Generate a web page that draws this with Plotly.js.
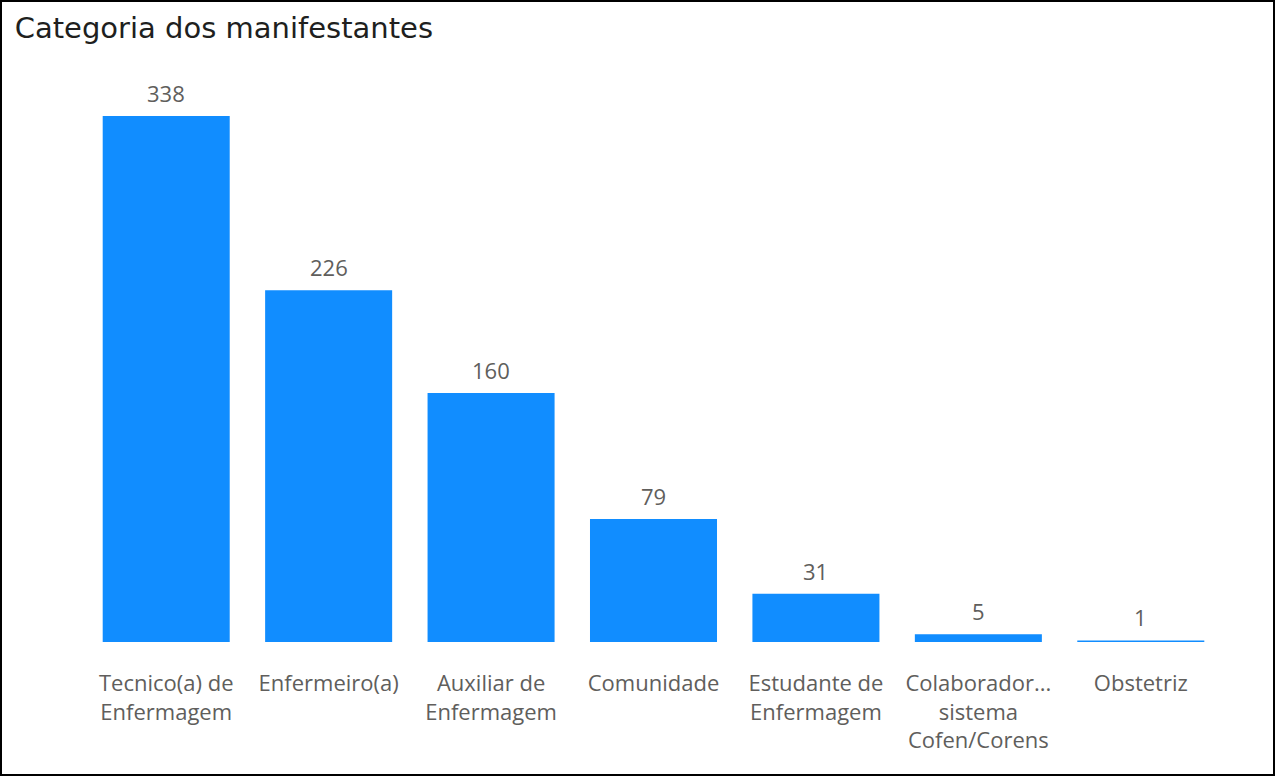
<!DOCTYPE html>
<html>
<head>
<meta charset="utf-8">
<script src="https://cdn.plot.ly/plotly-3.0.1.min.js"></script>
<style>
html,body{margin:0;padding:0;background:#fff;}
#wrap{width:1275px;height:776px;box-sizing:border-box;border:2px solid #000;overflow:hidden;}
#chart{width:1271px;height:772px;}
</style>
</head>
<body>
<div id="wrap"><div id="chart"></div></div>
<script>
const categories = [
  "Tecnico(a) de<br>Enfermagem",
  "Enfermeiro(a)",
  "Auxiliar de<br>Enfermagem",
  "Comunidade",
  "Estudante de<br>Enfermagem",
  "Colaborador...<br>sistema<br>Cofen/Corens",
  "Obstetriz"
];
const values = [338, 226, 160, 79, 31, 5, 1];

const labelFont = {family: "Open Sans, Noto Sans, sans-serif", size: 22, color: "#605E5C"};

const trace = {
  type: "bar",
  x: categories,
  y: values,
  marker: {color: "#118DFF"},
  cliponaxis: false,
  hoverinfo: "x+y"
};

const annotations = categories.map((c, i) => ({
  x: c, y: values[i], xref: "x", yref: "y",
  text: String(values[i]),
  showarrow: false,
  yanchor: "bottom",
  yshift: 6,
  font: labelFont
}));

const layout = {
  width: 1271,
  height: 772,
  margin: {l: 83, r: 51, t: 114, b: 132},
  paper_bgcolor: "#fff",
  plot_bgcolor: "#fff",
  bargap: 0.218,
  showlegend: false,
  title: {
    text: "Categoria dos manifestantes",
    font: {family: "DejaVu Sans, sans-serif", size: 29, color: "#201F1E"},
    x: 0.010, xanchor: "left",
    y: 0.966, yanchor: "middle"
  },
  xaxis: {
    type: "category",
    tickfont: labelFont,
    ticklabelstandoff: 26,
    showline: false, showgrid: false, zeroline: false,
    ticks: "", ticklen: 0
  },
  yaxis: {
    range: [0, 338],
    visible: false,
    showgrid: false, zeroline: false
  },
  annotations: annotations
};

Plotly.newPlot("chart", [trace], layout, {displayModeBar: false, staticPlot: true});
</script>
</body>
</html>
